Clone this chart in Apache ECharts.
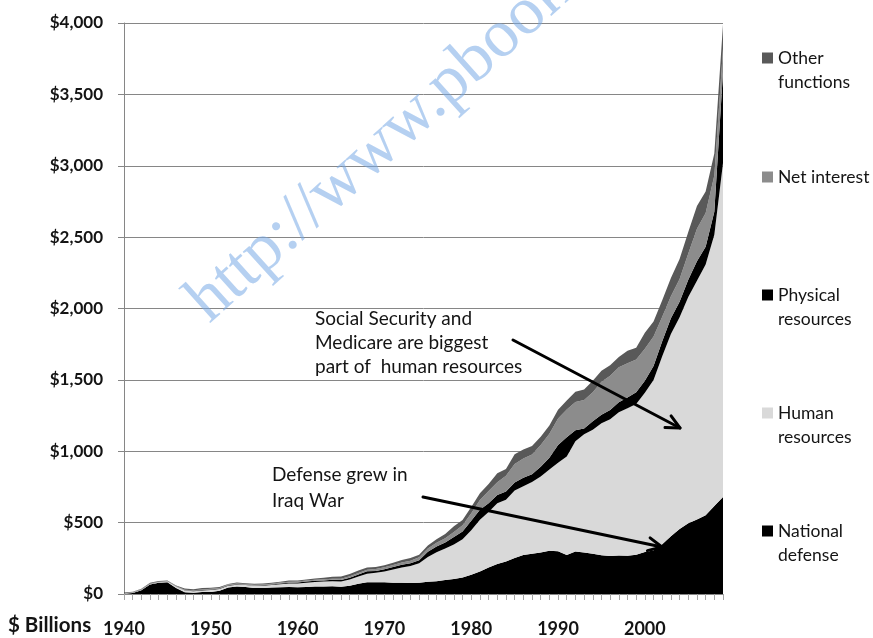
<!DOCTYPE html>
<html>
<head>
<meta charset="utf-8">
<script src="https://cdn.jsdelivr.net/npm/echarts@6/dist/echarts.min.js"></script>
<style>
  html, body { margin: 0; padding: 0; background: #ffffff; }
  #chart { width: 873px; height: 638px; }
</style>
</head>
<body>
<div id="chart"></div>
<script>
// Federal outlays by superfunction, $ billions, fiscal years 1940-2009
const years = [
  '1940','1941','1942','1943','1944','1945','1946','1947','1948','1949',
  '1950','1951','1952','1953','1954','1955','1956','1957','1958','1959',
  '1960','1961','1962','1963','1964','1965','1966','1967','1968','1969',
  '1970','1971','1972','1973','1974','1975','1976','1977','1978','1979',
  '1980','1981','1982','1983','1984','1985','1986','1987','1988','1989',
  '1990','1991','1992','1993','1994','1995','1996','1997','1998','1999',
  '2000','2001','2002','2003','2004','2005','2006','2007','2008','2009'
];

const nationalDefense = [
  1.7, 6.4, 25.7, 66.7, 79.1, 83.0, 42.7, 12.8, 9.1, 13.2,
  13.7, 23.6, 46.1, 52.8, 49.3, 42.7, 42.5, 45.4, 46.8, 49.0,
  48.1, 49.6, 52.3, 53.4, 54.8, 50.6, 58.1, 71.4, 81.9, 82.5,
  81.7, 78.9, 79.2, 76.7, 79.3, 86.5, 89.6, 97.2, 104.5, 116.3,
  134.0, 157.5, 185.3, 209.9, 227.4, 252.7, 273.4, 282.0, 290.4, 303.6,
  299.3, 273.3, 298.3, 291.1, 281.6, 272.1, 265.7, 270.5, 268.2, 274.8,
  294.4, 304.7, 348.5, 404.7, 455.8, 495.3, 521.8, 551.3, 616.1, 680.0
];

const humanResources = [
  4.1, 4.0, 3.7, 3.2, 3.0, 3.9, 7.4, 11.0, 10.8, 11.5,
  14.2, 10.6, 10.9, 11.2, 12.9, 14.9, 16.0, 17.5, 22.3, 24.0,
  26.2, 29.8, 31.6, 33.5, 35.3, 36.6, 43.3, 51.3, 59.4, 66.4,
  75.3, 91.9, 107.2, 119.5, 135.8, 173.2, 203.6, 221.9, 242.3, 267.6,
  313.4, 362.0, 388.7, 426.0, 432.0, 471.8, 481.6, 502.2, 533.4, 568.7,
  619.3, 689.7, 772.4, 827.5, 869.4, 923.8, 958.3, 1002.4, 1033.0, 1057.0,
  1115.4, 1194.4, 1317.5, 1417.0, 1482.1, 1585.9, 1672.1, 1757.7, 1900.0, 2340.0
];

const physicalResources = [
  2.3, 2.4, 2.7, 1.9, 1.0, 1.1, 1.4, 2.3, 2.6, 3.0,
  3.7, 3.9, 4.1, 4.1, 2.7, 2.7, 3.2, 3.9, 5.2, 6.5,
  7.0, 8.6, 8.4, 7.9, 9.2, 11.3, 13.2, 14.3, 17.9, 13.0,
  15.6, 17.8, 18.3, 19.9, 20.6, 35.4, 39.9, 40.8, 52.6, 54.6,
  66.0, 70.9, 61.8, 57.6, 57.9, 56.8, 58.7, 55.2, 68.2, 81.6,
  126.0, 134.9, 75.6, 41.0, 59.1, 59.1, 64.2, 70.8, 74.6, 81.9,
  84.9, 97.7, 104.7, 110.3, 108.8, 120.5, 137.9, 123.7, 162.0, 636.0
];

const netInterest = [
  0.9, 0.9, 1.1, 1.5, 2.2, 3.1, 4.1, 4.2, 4.3, 4.5,
  4.8, 4.7, 4.7, 5.2, 4.8, 4.9, 5.1, 5.4, 5.6, 5.8,
  6.9, 6.7, 6.9, 7.7, 8.2, 8.6, 9.4, 10.3, 11.1, 12.7,
  14.4, 14.8, 15.5, 17.3, 21.4, 23.2, 26.7, 29.9, 35.5, 42.6,
  52.5, 68.8, 85.0, 89.8, 111.1, 129.5, 136.0, 138.6, 151.8, 169.0,
  184.3, 194.4, 199.3, 198.7, 202.9, 232.1, 241.1, 244.0, 241.1, 229.8,
  222.9, 206.2, 170.9, 153.1, 160.2, 184.0, 226.6, 237.1, 252.8, 164.0
];

const otherFunctions = [
  2.0, 2.4, 3.5, 5.5, 6.5, 4.0, 3.5, 9.0, 7.0, 9.5,
  8.0, 6.0, 5.0, 6.5, 5.0, 7.0, 7.5, 7.0, 6.5, 8.5,
  7.0, 7.5, 9.5, 11.0, 13.5, 15.0, 16.0, 16.5, 16.0, 15.0,
  15.0, 15.5, 18.5, 19.0, 17.0, 21.0, 24.0, 30.0, 40.0, 38.0,
  43.0, 46.0, 50.0, 62.0, 47.0, 68.0, 63.0, 58.0, 57.0, 57.0,
  61.0, 63.0, 72.0, 75.0, 80.0, 77.0, 73.0, 73.0, 87.0, 82.0,
  113.0, 106.0, 117.0, 129.0, 140.0, 150.0, 160.0, 150.0, 155.0, 170.0
];

const yTicks = [0, 500, 1000, 1500, 2000, 2500, 3000, 3500, 4000];

// Stack order, bottom to top
const layers = [
  { name: 'National defense',    label: 'National\ndefense',    values: nationalDefense,   color: '#000000' },
  { name: 'Human resources',     label: 'Human\nresources',     values: humanResources,    color: '#d9d9d9' },
  { name: 'Physical resources',  label: 'Physical\nresources',  values: physicalResources, color: '#000000' },
  { name: 'Net interest',        label: 'Net interest',         values: netInterest,       color: '#8c8c8c' },
  { name: 'Other functions',     label: 'Other\nfunctions',     values: otherFunctions,    color: '#595959' }
];

const FONT = 'Lato, "Open Sans", sans-serif';
const INK = '#141414';
const AXIS_GRAY = '#868686';

// Legend: one block per layer, top of the stack first. Two-line labels get an
// empty leading line so the swatch sits beside the first line of text.
const legendFirstLine = { 'Other functions': 58, 'Net interest': 177, 'Physical resources': 295, 'Human resources': 413, 'National defense': 531 };
const LINE_H = 24;
const legends = layers.slice().reverse().map(l => {
  const twoLine = l.label.indexOf('\n') >= 0;
  return {
    data: [{ name: l.name, itemStyle: { color: l.color, borderWidth: 0 } }],
    orient: 'vertical',
    left: 762,
    top: legendFirstLine[l.name] - (twoLine ? LINE_H * 1.5 : LINE_H / 2),
    padding: 0,
    icon: 'rect',
    itemWidth: 11,
    itemHeight: 11,
    selectedMode: false,
    formatter: () => (twoLine ? '\n' : '') + l.label,
    textStyle: {
      fontFamily: FONT,
      fontSize: 17.5,
      color: INK,
      lineHeight: LINE_H
    }
  };
});

// Arrow annotation: shaft plus an open V head
function arrow(x1, y1, x2, y2) {
  const ang = Math.atan2(y2 - y1, x2 - x1);
  const head = 15, spread = Math.PI / 7;
  const p1 = [x2 - head * Math.cos(ang - spread), y2 - head * Math.sin(ang - spread)];
  const p2 = [x2 - head * Math.cos(ang + spread), y2 - head * Math.sin(ang + spread)];
  const style = { stroke: '#000', lineWidth: 3, fill: null, lineCap: 'round', lineJoin: 'round' };
  return [
    { type: 'line', z: 50, shape: { x1, y1, x2, y2 }, style },
    { type: 'polyline', z: 50, shape: { points: [p1, [x2, y2], p2] }, style }
  ];
}

const chart = echarts.init(document.getElementById('chart'), null, { renderer: 'canvas' });

chart.setOption({
  animation: false,
  backgroundColor: '#ffffff',
  textStyle: { fontFamily: FONT },
  grid: { left: 124, right: 150, top: 23, bottom: 44, containLabel: false },
  legend: legends,
  xAxis: {
    type: 'category',
    data: years,
    boundaryGap: false,
    axisLine: { lineStyle: { color: AXIS_GRAY, width: 1 } },
    axisTick: { show: true, interval: 0, length: 6, lineStyle: { color: '#a6a6a6' } },
    axisLabel: {
      interval: 9,
      margin: 26,
      fontFamily: FONT,
      fontSize: 18,
      fontWeight: 'bold',
      color: INK
    },
    splitLine: { show: false }
  },
  yAxis: {
    type: 'value',
    min: 0,
    max: 4000,
    interval: 500,
    axisLine: { show: true, lineStyle: { color: AXIS_GRAY, width: 1 } },
    axisTick: { show: true, length: 6, lineStyle: { color: AXIS_GRAY } },
    axisLabel: {
      margin: 21,
      fontFamily: FONT,
      fontSize: 17,
      fontWeight: 'bold',
      color: INK,
      formatter: v => yTicks.indexOf(v) >= 0 ? '$' + v.toLocaleString('en-US') : ''
    },
    splitLine: { show: true, lineStyle: { color: AXIS_GRAY, width: 1 } }
  },
  series: layers.map(l => ({
    name: l.name,
    type: 'line',
    stack: 'outlays',
    data: l.values,
    symbol: 'none',
    smooth: false,
    itemStyle: { color: l.color },
    lineStyle: { width: 0, color: l.color },
    areaStyle: { color: l.color, opacity: 1 },
    emphasis: { disabled: true }
  })),
  graphic: [
    {
      type: 'text', x: 8, y: 615, z: 60,
      style: { text: '$ Billions', font: 'bold 20.5px ' + FONT, fill: INK }
    },
    {
      type: 'text', x: 315, y: 307, z: 60,
      style: {
        text: 'Social Security and\nMedicare are biggest\npart of  human resources',
        font: '19px ' + FONT, fill: INK, lineHeight: 24
      }
    },
    {
      type: 'text', x: 272, y: 462, z: 60,
      style: {
        text: 'Defense grew in\nIraq War',
        font: '19px ' + FONT, fill: INK, lineHeight: 26
      }
    },
    ...arrow(513, 340, 680, 428),
    ...arrow(423, 497, 662, 547),
    {
      type: 'text', x: 220, y: 336, z: 70,
      rotation: 42 * Math.PI / 180,
      style: {
        text: 'http://www.pbook',
        font: '68px "Liberation Serif", "DejaVu Serif", serif',
        fill: 'rgba(120,170,230,0.55)',
        verticalAlign: 'bottom'
      }
    }
  ]
});
</script>
</body>
</html>
